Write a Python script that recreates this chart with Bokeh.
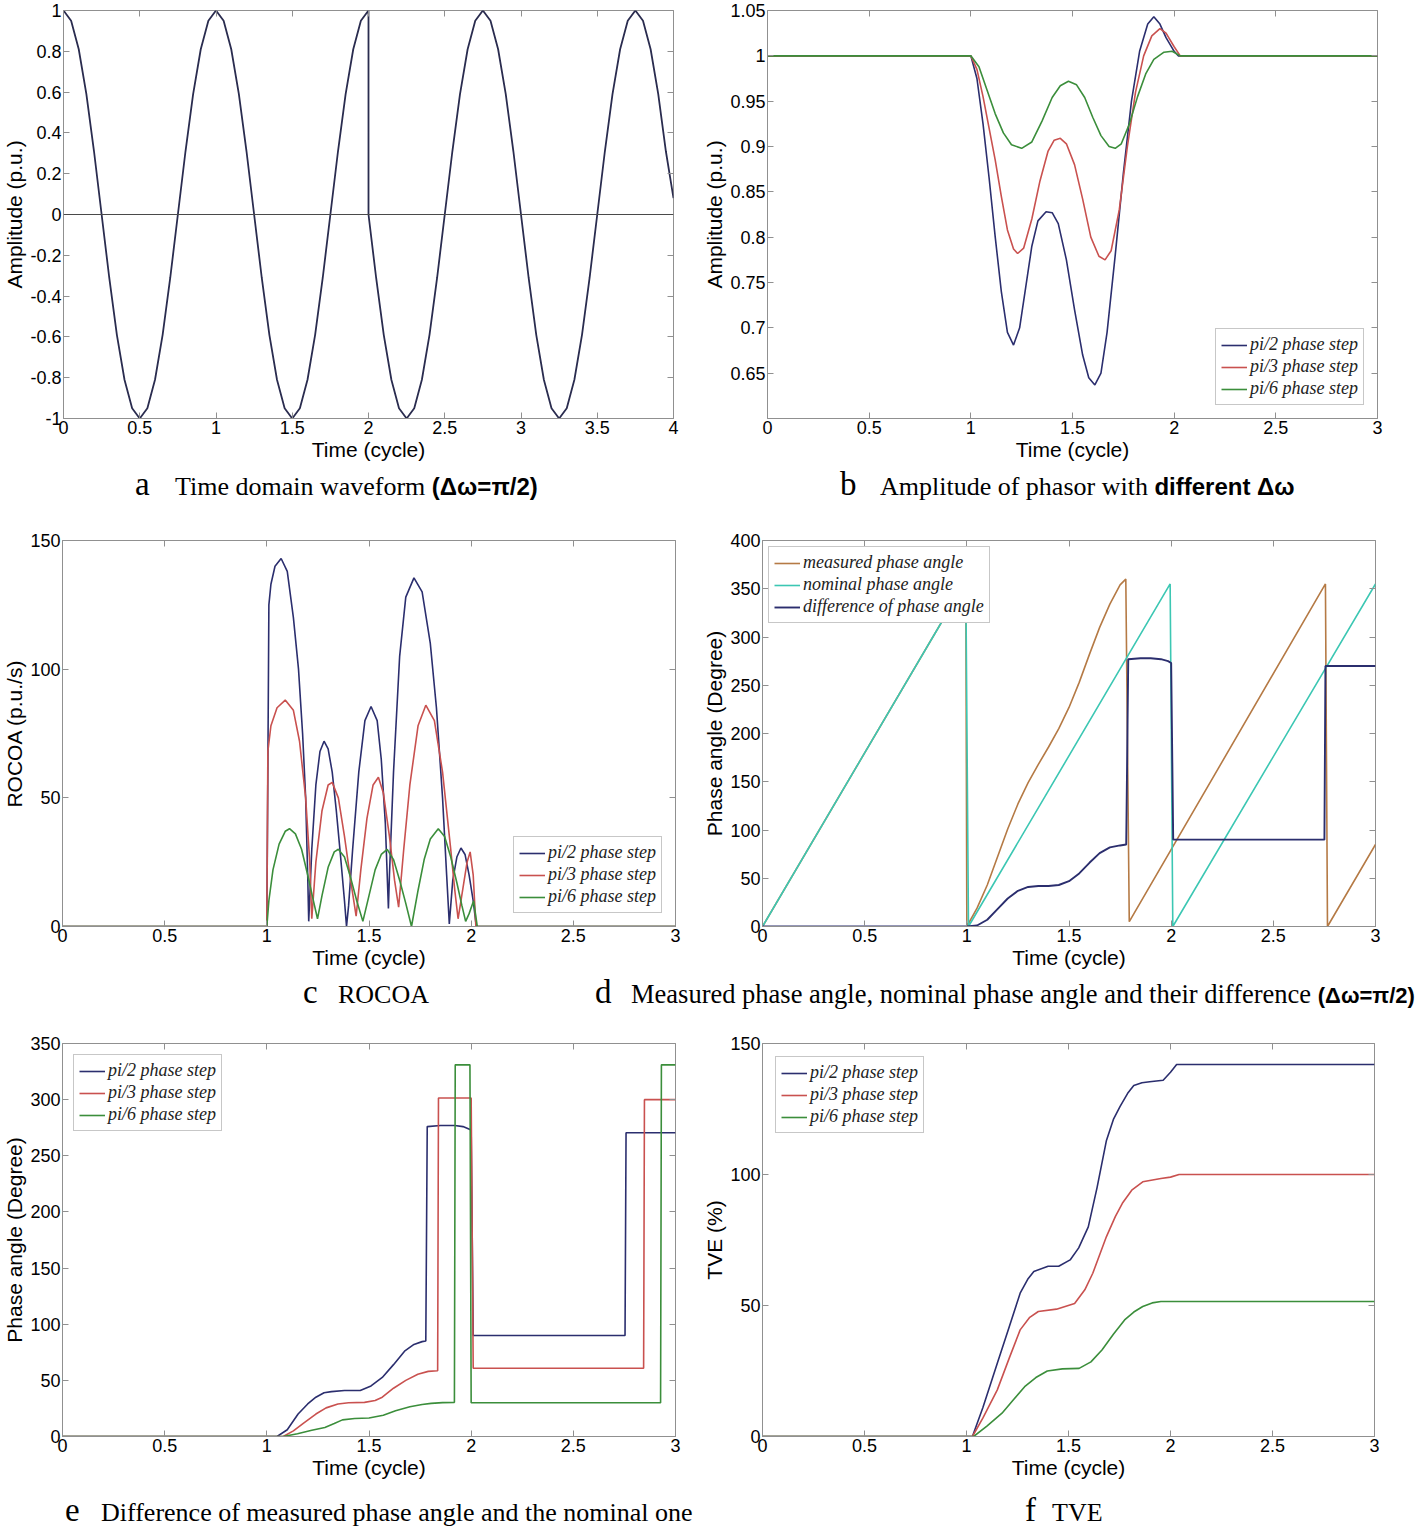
from bokeh.plotting import figure
from bokeh.models import Range1d, FixedTicker, LinearAxis, Span, Div
from bokeh.layouts import column, row
from bokeh.embed import file_html
from bokeh.resources import INLINE

# ---------------- colours ----------------
NAVY = "#2b2e6e"
RED = "#c9514f"
GREEN = "#3b8e3b"
ORANGE = "#b57a45"
CYAN = "#3cc7b3"
WAVE = "#2a2c4f"
FRAME = "#909090"

# ---------------- tick values / labels ----------------
xticks_4 = [0, 0.5, 1, 1.5, 2, 2.5, 3, 3.5, 4]
xlabels_4 = ["0", "0.5", "1", "1.5", "2", "2.5", "3", "3.5", "4"]
xticks_3 = [0, 0.5, 1, 1.5, 2, 2.5, 3]
xlabels_3 = ["0", "0.5", "1", "1.5", "2", "2.5", "3"]
yticks_a = [-1, -0.8, -0.6, -0.4, -0.2, 0, 0.2, 0.4, 0.6, 0.8, 1]
ylabels_a = ["-1", "-0.8", "-0.6", "-0.4", "-0.2", "0", "0.2", "0.4", "0.6", "0.8", "1"]
yticks_b = [0.65, 0.7, 0.75, 0.8, 0.85, 0.9, 0.95, 1.0, 1.05]
ylabels_b = ["0.65", "0.7", "0.75", "0.8", "0.85", "0.9", "0.95", "1", "1.05"]
yticks_150 = [0, 50, 100, 150]
ylabels_150 = ["0", "50", "100", "150"]
yticks_d = [0, 50, 100, 150, 200, 250, 300, 350, 400]
ylabels_d = ["0", "50", "100", "150", "200", "250", "300", "350", "400"]
yticks_e = [0, 50, 100, 150, 200, 250, 300, 350]
ylabels_e = ["0", "50", "100", "150", "200", "250", "300", "350"]

series_names = ["pi/2 phase step", "pi/3 phase step", "pi/6 phase step"]
d_names = ["measured phase angle", "nominal phase angle", "difference of phase angle"]

# ---------------- (a) time domain waveform ----------------
t_wave = [0.00, 0.05, 0.10, 0.15, 0.20, 0.25, 0.30, 0.35, 0.40, 0.45,
          0.50, 0.55, 0.60, 0.65, 0.70, 0.75, 0.80, 0.85, 0.90, 0.95,
          1.00, 1.05, 1.10, 1.15, 1.20, 1.25, 1.30, 1.35, 1.40, 1.45,
          1.50, 1.55, 1.60, 1.65, 1.70, 1.75, 1.80, 1.85, 1.90, 1.95,
          2.00, 2.00, 2.05, 2.10, 2.15, 2.20, 2.25, 2.30, 2.35, 2.40, 2.45,
          2.50, 2.55, 2.60, 2.65, 2.70, 2.75, 2.80, 2.85, 2.90, 2.95,
          3.00, 3.05, 3.10, 3.15, 3.20, 3.25, 3.30, 3.35, 3.40, 3.45,
          3.50, 3.55, 3.60, 3.65, 3.70, 3.75, 3.80, 3.85, 3.90, 3.95, 4.00]
v_wave = [1.00, 0.95, 0.81, 0.59, 0.31, 0.00, -0.31, -0.59, -0.81, -0.95,
          -1.00, -0.95, -0.81, -0.59, -0.31, 0.00, 0.31, 0.59, 0.81, 0.95,
          1.00, 0.95, 0.81, 0.59, 0.31, 0.00, -0.31, -0.59, -0.81, -0.95,
          -1.00, -0.95, -0.81, -0.59, -0.31, 0.00, 0.31, 0.59, 0.81, 0.95,
          1.00, 0.00, -0.31, -0.59, -0.81, -0.95, -1.00, -0.95, -0.81, -0.59, -0.31,
          0.00, 0.31, 0.59, 0.81, 0.95, 1.00, 0.95, 0.81, 0.59, 0.31,
          0.00, -0.31, -0.59, -0.81, -0.95, -1.00, -0.95, -0.81, -0.59, -0.31,
          0.00, 0.31, 0.59, 0.81, 0.95, 1.00, 0.95, 0.81, 0.59, 0.31, 0.08]

# ---------------- (b) amplitude ----------------
t_b_pi2 = [0, 1.00, 1.03, 1.06, 1.09, 1.12, 1.15, 1.18, 1.21, 1.24, 1.27, 1.30, 1.33, 1.37,
           1.40, 1.43, 1.47, 1.51, 1.55, 1.58, 1.61, 1.64, 1.67, 1.71, 1.75, 1.79, 1.83,
           1.87, 1.90, 1.93, 1.96, 2.00, 2.02, 3.00]
amp_pi2 = [1.0, 1.0, 0.975, 0.925, 0.865, 0.800, 0.740, 0.695, 0.681, 0.700, 0.745, 0.790,
           0.818, 0.828, 0.827, 0.815, 0.775, 0.720, 0.670, 0.645, 0.637, 0.650, 0.695, 0.780,
           0.870, 0.950, 1.005, 1.035, 1.043, 1.035, 1.020, 1.005, 1.000, 1.000]
t_b_pi3 = [0, 1.00, 1.03, 1.06, 1.09, 1.12, 1.15, 1.18, 1.21, 1.23, 1.26, 1.30, 1.34, 1.38,
           1.41, 1.44, 1.47, 1.51, 1.55, 1.59, 1.63, 1.66, 1.69, 1.73, 1.77, 1.81, 1.85,
           1.89, 1.93, 1.96, 2.00, 2.03, 3.00]
amp_pi3 = [1.0, 1.0, 0.985, 0.955, 0.920, 0.885, 0.845, 0.808, 0.787, 0.782, 0.788, 0.820,
           0.862, 0.895, 0.907, 0.909, 0.903, 0.880, 0.842, 0.800, 0.779, 0.775, 0.785, 0.830,
           0.900, 0.960, 1.000, 1.022, 1.030, 1.025, 1.010, 1.000, 1.000]
t_b_pi6 = [0, 1.00, 1.04, 1.08, 1.12, 1.16, 1.20, 1.25, 1.30, 1.35, 1.40, 1.44, 1.48, 1.52,
           1.56, 1.60, 1.64, 1.68, 1.71, 1.74, 1.78, 1.82, 1.86, 1.90, 1.95, 1.99, 2.03, 3.00]
amp_pi6 = [1.0, 1.0, 0.988, 0.962, 0.936, 0.915, 0.902, 0.898, 0.905, 0.928, 0.954, 0.967,
           0.972, 0.968, 0.954, 0.932, 0.912, 0.900, 0.898, 0.903, 0.925, 0.955, 0.980, 0.996,
           1.004, 1.005, 1.000, 1.000]

# ---------------- (c) ROCOA ----------------
t_c_pi2 = [0, 1.000, 1.005, 1.010, 1.020, 1.040, 1.070, 1.100, 1.130, 1.155, 1.175, 1.190,
           1.200, 1.205, 1.220, 1.240, 1.260, 1.280, 1.300, 1.320, 1.340, 1.360, 1.380, 1.390,
           1.400, 1.420, 1.450, 1.480, 1.510, 1.540, 1.560, 1.580, 1.595, 1.600, 1.620, 1.650,
           1.680, 1.720, 1.760, 1.800, 1.830, 1.860, 1.880, 1.893, 1.910, 1.930, 1.950, 1.970,
           1.990, 2.010, 2.025, 3.000]
rocoa_pi2 = [0, 0, 60, 125, 133, 140, 143, 138, 120, 100, 75, 50, 20, 2, 30, 55, 68, 72, 69,
             60, 45, 28, 10, 0, 8, 30, 60, 80, 85.5, 80, 65, 40, 7, 20, 60, 105, 128, 135.5,
             130, 110, 85, 50, 20, 1, 18, 27, 30.5, 28, 20, 10, 0, 0]
t_c_pi3 = [0, 1.000, 1.005, 1.020, 1.050, 1.090, 1.130, 1.160, 1.190, 1.210, 1.220, 1.240,
           1.270, 1.300, 1.320, 1.350, 1.380, 1.410, 1.437, 1.460, 1.490, 1.520, 1.546, 1.570,
           1.600, 1.625, 1.645, 1.670, 1.700, 1.740, 1.778, 1.820, 1.860, 1.900, 1.920, 1.936,
           1.960, 1.980, 1.995, 2.010, 2.023, 3.000]
rocoa_pi3 = [0, 0, 68, 78, 85, 88, 84, 72, 50, 25, 3, 25, 45, 55, 56, 50, 35, 18, 4, 22, 42,
             55, 58, 52, 35, 18, 7.5, 30, 55, 78, 86, 80, 60, 30, 14, 3, 15, 25, 29, 20, 0, 0]
t_c_pi6 = [0, 1.000, 1.010, 1.030, 1.060, 1.090, 1.111, 1.140, 1.170, 1.200, 1.225, 1.248,
           1.270, 1.300, 1.330, 1.350, 1.380, 1.410, 1.440, 1.470, 1.500, 1.530, 1.560, 1.589,
           1.620, 1.650, 1.680, 1.708, 1.740, 1.770, 1.800, 1.839, 1.870, 1.900, 1.930, 1.955,
           1.973, 1.990, 2.012, 2.030, 3.000]
rocoa_pi6 = [0, 0, 10, 22, 32, 37, 38, 36, 30, 20, 11, 3, 12, 23, 29, 30, 27, 19, 10, 2, 12,
             22, 28, 30, 26, 18, 9, 0, 14, 26, 34, 38, 35, 27, 17, 8, 2, 5, 10, 0, 0]

# ---------------- (d) phase angles ----------------
t_d_meas = [0.0, 0.995, 1.000, 1.05, 1.10, 1.15, 1.20, 1.25, 1.30, 1.35, 1.40, 1.45, 1.50,
            1.55, 1.60, 1.65, 1.70, 1.75, 1.778, 1.795, 2.755, 2.765, 3.0]
meas_angle = [0, 358, 0, 19, 43, 72, 101, 127, 149, 168, 186, 205, 227, 253, 282, 310, 334,
              354, 360, 5, 355, 0, 85]
t_d_nom = [0.0, 0.995, 1.008, 1.995, 2.008, 3.0]
nom_angle = [0, 358, 0, 355, 0, 355]
t_d_diff = [0.0, 1.00, 1.05, 1.10, 1.15, 1.20, 1.25, 1.30, 1.35, 1.40, 1.45, 1.50, 1.55, 1.60,
            1.65, 1.70, 1.75, 1.780, 1.790, 1.85, 1.90, 1.95, 1.985, 2.000, 2.010, 2.750,
            2.755, 3.0]
diff_angle = [0, 0, 1, 7, 18, 29, 37, 41, 42, 42, 43, 47, 55, 66, 76, 82, 84, 85, 277, 278,
              278, 277, 275, 273, 90, 90, 270, 270]

# ---------------- (e) phase difference ----------------
t_e_pi2 = [0.0, 1.05, 1.10, 1.153, 1.20, 1.24, 1.28, 1.316, 1.38, 1.457, 1.51, 1.565, 1.62,
           1.674, 1.72, 1.76, 1.778, 1.785, 1.85, 1.92, 1.96, 2.000, 2.010, 2.753, 2.758, 3.0]
e_pi2 = [0, 0, 6, 20, 29, 35, 39, 40, 41, 41, 45, 52.6, 64, 76, 82, 84.5, 85, 276, 277, 277,
         276, 273, 90, 90, 270.5, 270.5]
t_e_pi3 = [0.0, 1.08, 1.13, 1.18, 1.24, 1.29, 1.348, 1.40, 1.478, 1.53, 1.565, 1.62, 1.68,
           1.739, 1.79, 1.836, 1.840, 2.000, 2.010, 2.844, 2.848, 3.0]
e_pi3 = [0, 0, 5, 12, 20, 25.5, 29, 30, 30.4, 32, 35, 43, 50, 55.5, 58, 58.5, 301.5, 301.5,
         60.8, 60.8, 300, 300]
t_e_pi6 = [0.0, 1.08, 1.15, 1.22, 1.284, 1.33, 1.37, 1.43, 1.50, 1.57, 1.63, 1.70, 1.76,
           1.804, 1.86, 1.918, 1.922, 1.994, 2.000, 2.927, 2.931, 3.0]
e_pi6 = [0, 0, 2.5, 5.5, 8, 11.5, 14.8, 16, 16.5, 19, 23, 26.5, 28.5, 29.5, 30.2, 30.4, 331,
         331, 30, 30, 331, 331]

# ---------------- (f) TVE ----------------
t_f_pi2 = [0.0, 1.029, 1.08, 1.151, 1.21, 1.263, 1.30, 1.33, 1.40, 1.452, 1.508, 1.55, 1.597,
           1.64, 1.686, 1.72, 1.753, 1.79, 1.82, 1.86, 1.898, 1.964, 2.00, 2.03, 3.0]
tve_pi2 = [0, 0, 11, 28, 42, 54.7, 60, 63, 65, 65, 67.4, 72, 80, 95, 113, 121, 126, 131, 134,
           135, 135.4, 136, 139, 142, 142]
t_f_pi3 = [0.0, 1.029, 1.08, 1.151, 1.21, 1.263, 1.31, 1.352, 1.441, 1.53, 1.58, 1.619, 1.686,
           1.73, 1.764, 1.81, 1.864, 1.953, 2.00, 2.042, 3.0]
tve_pi3 = [0, 0, 7, 17.8, 30, 40.7, 45.5, 47.7, 48.6, 50.8, 56, 62.3, 76.3, 84, 89, 94, 97.2,
           98.5, 99, 100, 100]
t_f_pi6 = [0.0, 1.035, 1.10, 1.174, 1.23, 1.285, 1.34, 1.396, 1.47, 1.552, 1.61, 1.664, 1.72,
           1.775, 1.82, 1.864, 1.91, 1.953, 3.0]
tve_pi6 = [0, 0, 4, 8.9, 14, 19, 22.5, 25, 25.8, 26, 28.5, 33, 39, 44.5, 47.5, 49.6, 51, 51.5,
           51.5]


# ---------------- helpers ----------------
def make_fig(w, h, bl, br, bt, bb, xr, yr, xt, xl, yt, yl, ylabel):
    p = figure(width=w, height=h, title=None, toolbar_location=None, tools="",
               output_backend="svg", x_range=Range1d(*xr), y_range=Range1d(*yr),
               min_border_left=bl, min_border_right=br, min_border_top=bt,
               min_border_bottom=bb)
    p.grid.visible = False
    p.outline_line_color = FRAME
    p.outline_line_width = 1
    p.background_fill_color = "white"
    p.border_fill_color = "white"
    for ax, ticks, labels in ((p.xaxis[0], xt, xl), (p.yaxis[0], yt, yl)):
        ax.ticker = FixedTicker(ticks=ticks, minor_ticks=[])
        ax.major_label_overrides = {float(t): s for t, s in zip(ticks, labels)}
        ax.axis_line_color = FRAME
        ax.major_tick_line_color = FRAME
        ax.major_tick_in = 6
        ax.major_tick_out = 0
        ax.minor_tick_line_color = None
        ax.major_label_text_font = "Liberation Sans"
        ax.major_label_text_font_size = "18px"
        ax.major_label_text_color = "#000000"
        ax.major_label_standoff = 2
        ax.axis_label_text_font = "Liberation Sans"
        ax.axis_label_text_font_size = "21px"
        ax.axis_label_text_font_style = "normal"
        ax.axis_label_text_color = "#000000"
        ax.axis_label_standoff = 1
    p.xaxis[0].axis_label = "Time (cycle)"
    p.yaxis[0].axis_label = ylabel
    # MATLAB-like inward ticks on the top and right edges
    for ticks, place in ((xt, "above"), (yt, "right")):
        ax = LinearAxis(ticker=FixedTicker(ticks=ticks, minor_ticks=[]),
                        major_label_text_font_size="0px", major_label_standoff=0,
                        major_label_overrides={float(t): "" for t in ticks},
                        major_tick_in=6, major_tick_out=0, axis_line_color=None,
                        major_tick_line_color=FRAME, minor_tick_line_color=None)
        p.add_layout(ax, place)
    return p


def style_legend(p, loc, margin):
    lg = p.legend[0]
    lg.location = loc
    lg.margin = margin
    lg.label_text_font = "Liberation Serif"
    lg.label_text_font_style = "italic"
    lg.label_text_font_size = "18px"
    lg.label_text_color = "#222222"
    lg.glyph_width = 26
    lg.glyph_height = 20
    lg.label_height = 20
    lg.label_standoff = 3
    lg.spacing = 1
    lg.padding = 5
    lg.border_line_color = FRAME
    lg.border_line_width = 1
    lg.background_fill_color = "white"
    lg.background_fill_alpha = 1.0


LW = 1.6

# (a)
fa = make_fig(700, 465, 62, 27, 10, 47, (0, 4), (-1, 1), xticks_4, xlabels_4,
              yticks_a, ylabels_a, "Amplitude (p.u.)")
fa.add_layout(Span(location=0, dimension="width", line_color="#4a4a4a", line_width=1))
fa.line(t_wave, v_wave, line_color=WAVE, line_width=1.8)

# (b)
fb = make_fig(718, 465, 65, 41, 8, 47, (0, 3), (0.6, 1.05), xticks_3, xlabels_3,
              yticks_b, ylabels_b, "Amplitude (p.u.)")
fb.line(t_b_pi2, amp_pi2, line_color=NAVY, line_width=LW, legend_label=series_names[0])
fb.line(t_b_pi3, amp_pi3, line_color=RED, line_width=LW, legend_label=series_names[1])
fb.line(t_b_pi6, amp_pi6, line_color=GREEN, line_width=LW, legend_label=series_names[2])
style_legend(fb, "bottom_right", 13)

# (c)
fc = make_fig(700, 468, 57, 25, 32, 47, (0, 3), (0, 150), xticks_3, xlabels_3,
              yticks_150, ylabels_150, "ROCOA (p.u./s)")
fc.line(t_c_pi2, rocoa_pi2, line_color=NAVY, line_width=LW, legend_label=series_names[0])
fc.line(t_c_pi3, rocoa_pi3, line_color=RED, line_width=LW, legend_label=series_names[1])
fc.line(t_c_pi6, rocoa_pi6, line_color=GREEN, line_width=LW, legend_label=series_names[2])
style_legend(fc, "bottom_right", 13)

# (d)
fd = make_fig(718, 468, 62, 43, 35, 47, (0, 3), (0, 400), xticks_3, xlabels_3,
              yticks_d, ylabels_d, "Phase angle (Degree)")
fd.line(t_d_meas, meas_angle, line_color=ORANGE, line_width=LW, legend_label=d_names[0])
fd.line(t_d_nom, nom_angle, line_color=CYAN, line_width=LW, legend_label=d_names[1])
fd.line(t_d_diff, diff_angle, line_color=NAVY, line_width=1.9, legend_label=d_names[2])
style_legend(fd, "top_left", 6)

# (e)
fe = make_fig(700, 471, 57, 25, 30, 47, (0, 3), (0, 350), xticks_3, xlabels_3,
              yticks_e, ylabels_e, "Phase angle (Degree)")
fe.line(t_e_pi2, e_pi2, line_color=NAVY, line_width=LW, legend_label=series_names[0])
fe.line(t_e_pi3, e_pi3, line_color=RED, line_width=LW, legend_label=series_names[1])
fe.line(t_e_pi6, e_pi6, line_color=GREEN, line_width=LW, legend_label=series_names[2])
style_legend(fe, "top_left", 11)

# (f)
ff = make_fig(718, 471, 57, 44, 31, 47, (0, 3), (0, 150), xticks_3, xlabels_3,
              yticks_150, ylabels_150, "TVE (%)")
ff.line(t_f_pi2, tve_pi2, line_color=NAVY, line_width=LW, legend_label=series_names[0])
ff.line(t_f_pi3, tve_pi3, line_color=RED, line_width=LW, legend_label=series_names[1])
ff.line(t_f_pi6, tve_pi6, line_color=GREEN, line_width=LW, legend_label=series_names[2])
style_legend(ff, "top_left", 13)


# ---------------- captions ----------------
def cap_item(left, top, letter, letter_w, body, size=26):
    return ('<div style="position:absolute;left:%dpx;top:%dpx;display:flex;'
            'align-items:baseline;white-space:nowrap;line-height:0.8;'
            'font-family:\'Liberation Serif\',serif;color:#000;">'
            '<span style="font-size:33px;width:%dpx;flex:none;">%s</span>'
            '<span style="font-size:%spx;">%s</span></div>'
            % (left, top, letter_w, letter, size, body))


def bold(txt, size=24):
    return ('<b style="font-family:\'Liberation Sans\',sans-serif;font-size:%dpx;">%s</b>'
            % (size, txt))


def cap_div(h, items):
    html = ('<div style="position:relative;width:1418px;height:%dpx;">' % h
            + "".join(items) + "</div>")
    return Div(text=html, width=1418, height=h, margin=(0, 0, 0, 0))


cap1 = cap_div(40, [
    cap_item(135, 6, "a", 40, "Time domain waveform " + bold("(Δω=π/2)")),
    cap_item(840, 6, "b", 40, "Amplitude of phasor with " + bold("different Δω")),
])
cap2 = cap_div(39, [
    cap_item(303, 6, "c", 35, "ROCOA"),
    cap_item(595, 6, "d", 36, "Measured phase angle, nominal phase angle and their difference "
             + bold("(Δω=π/2)", 22), size=26.5),
])
cap3 = cap_div(47, [
    cap_item(65, 14, "e", 36, "Difference of measured phase angle and the nominal one"),
    cap_item(1025, 14, "f", 27, "TVE"),
])

layout = column(row(fa, fb), cap1, row(fc, fd), cap2, row(fe, ff), cap3)

open("out.html", "w").write(file_html(layout, INLINE, title="Phase step figure"))
